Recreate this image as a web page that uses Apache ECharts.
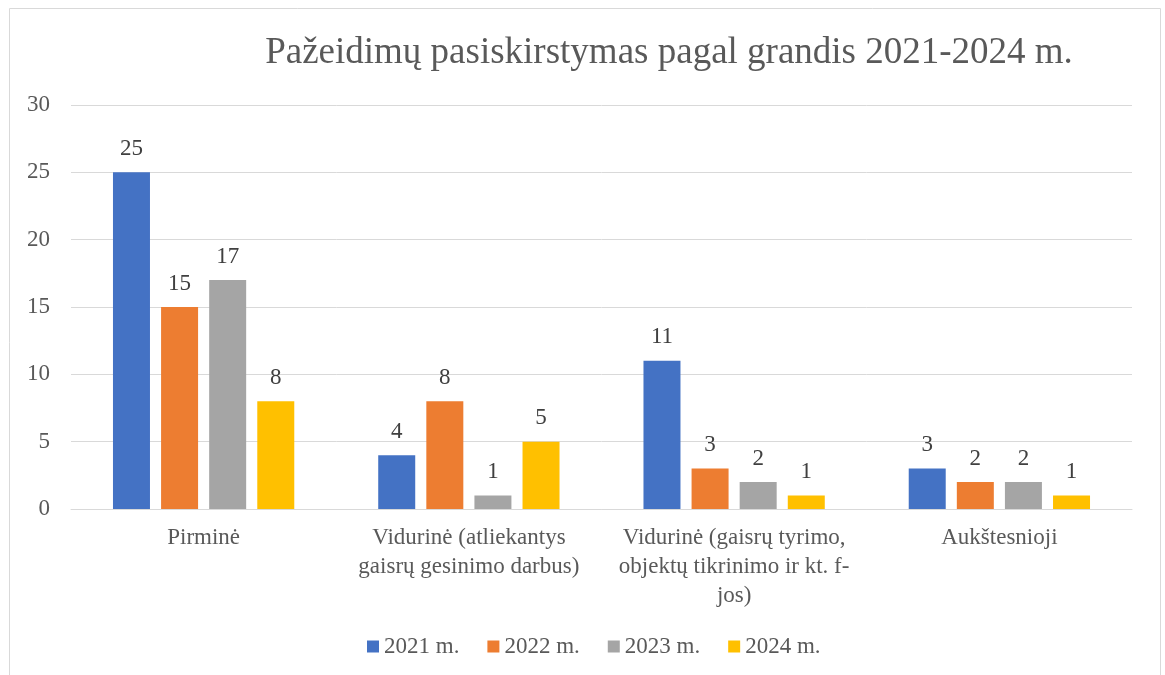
<!DOCTYPE html>
<html>
<head>
<meta charset="utf-8">
<script src="https://cdn.jsdelivr.net/npm/echarts@6/dist/echarts.min.js"></script>
<style>
  html, body { margin: 0; padding: 0; background: #fff; }
  #main { width: 1165px; height: 675px; }
</style>
</head>
<body>
<div id="main"></div>
<script>
// kategorijos (grandys)
var categories = [
  'Pirminė',
  'Vidurinė (atliekantys\ngaisrų gesinimo darbus)',
  'Vidurinė (gaisrų tyrimo,\nobjektų tikrinimo ir kt. f-\njos)',
  'Aukštesnioji'
];
var years = ['2021 m.', '2022 m.', '2023 m.', '2024 m.'];
var v2021 = [25, 4, 11, 3];
var v2022 = [15, 8, 3, 2];
var v2023 = [17, 1, 2, 2];
var v2024 = [8, 5, 1, 1];
var colors = ['#4472c4', '#ed7d31', '#a5a5a5', '#ffc000'];

var font = '"Liberation Serif", "Times New Roman", serif';

function makeSeries(name, data, color) {
  return {
    name: name,
    type: 'bar',
    data: data,
    barWidth: 37,
    barGap: '30%',
    itemStyle: { color: color },
    label: {
      show: true,
      position: 'top',
      distance: 12,
      color: '#404040',
      fontFamily: font,
      fontSize: 23
    }
  };
}

var chart = echarts.init(document.getElementById('main'));
chart.setOption({
  animation: false,
  title: {
    text: 'Pažeidimų pasiskirstymas pagal grandis 2021-2024 m.',
    left: 664,
    top: 30,
    textAlign: 'center',
    textStyle: {
      fontFamily: font,
      fontWeight: 'normal',
      fontSize: 37,
      color: '#595959'
    }
  },
  graphic: [{
    type: 'rect',
    shape: { x: 9.5, y: 8.5, width: 1151, height: 700 },
    style: { fill: 'none', stroke: '#d9d9d9', lineWidth: 1 },
    silent: true
  }],
  legend: {
    data: years,
    bottom: 12,
    left: 362,
    itemWidth: 12,
    itemHeight: 12,
    itemGap: 28,
    icon: 'rect',
    textStyle: {
      fontFamily: font,
      fontSize: 23,
      color: '#595959'
    }
  },
  grid: {
    left: 71,
    right: 33,
    top: 105,
    bottom: 166
  },
  xAxis: {
    type: 'category',
    data: categories,
    axisLine: { lineStyle: { color: '#d9d9d9', width: 1 } },
    axisTick: { show: false },
    axisLabel: {
      interval: 0,
      margin: 14,
      fontFamily: font,
      fontSize: 23,
      lineHeight: 29,
      color: '#595959'
    }
  },
  yAxis: {
    type: 'value',
    min: 0,
    max: 30,
    interval: 5,
    axisLine: { show: false },
    axisTick: { show: false },
    splitLine: { lineStyle: { color: '#d9d9d9', width: 1 } },
    axisLabel: {
      margin: 21,
      fontFamily: font,
      fontSize: 23,
      color: '#595959'
    }
  },
  series: [
    makeSeries(years[0], v2021, colors[0]),
    makeSeries(years[1], v2022, colors[1]),
    makeSeries(years[2], v2023, colors[2]),
    makeSeries(years[3], v2024, colors[3])
  ]
});
</script>
</body>
</html>
